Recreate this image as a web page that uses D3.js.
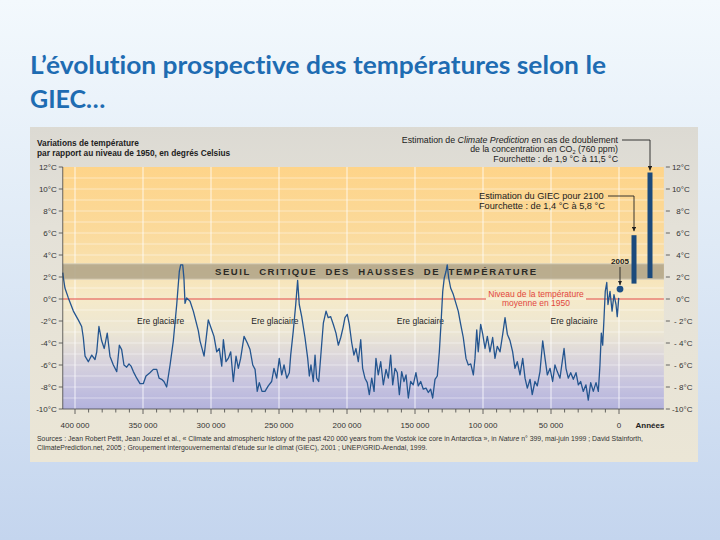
<!DOCTYPE html>
<html>
<head>
<meta charset="utf-8">
<script src="https://cdn.jsdelivr.net/npm/d3@7/dist/d3.min.js"></script>
<style>
  html, body { margin: 0; padding: 0; }
  body { width: 720px; height: 540px; overflow: hidden; }
  svg { display: block; }
  text { font-variant-ligatures: none; }
</style>
</head>
<body>
<svg id="chart" width="720" height="540"></svg>
<script>
// ---------------- DATA ----------------
// Vostok reconstruction: age in thousands of years before present, temperature anomaly vs 1950 (°C)
const vostokAge = [409, 408.5, 407.4, 404.9, 401.2, 397.6, 395.1, 393.9, 392.6, 390.2, 387.7, 385.3, 384.0, 382.4, 380.4, 378.5, 376.3, 374.3, 371.8, 369.3,
  367.4, 365.7, 364.0, 362.0, 360.3, 358.8, 357.1, 354.6, 352.2, 349.8, 347.8, 344.9, 342.4, 339.9, 338.2, 336.3, 334.6, 332.6, 330.1, 327.7,
  325.2, 323.3, 322.3, 320.8, 319.9, 319.1, 317.9, 315.4, 313.0, 309.3, 308.1, 305.1, 303.2, 302.0, 299.5, 297.8, 295.8, 293.9, 292.1, 290.9,
  289.0, 287.3, 285.5, 283.6, 281.6, 279.9, 278.2, 275.7, 273.3, 271.3, 269.3, 267.6, 266.0, 264.5, 262.5, 260.3, 257.9, 255.4, 253.7, 251.7,
  249.8, 248.0, 246.3, 244.3, 242.4, 241.4, 239.5, 237.7, 236.3, 235.1, 233.3, 230.9, 228.9, 227.7, 226.5, 224.8, 223.5, 222.3, 220.8, 219.3,
  217.4, 215.4, 213.8, 212.0, 210.1, 208.1, 206.4, 204.6, 202.9, 201.5, 199.8, 198.3, 196.5, 194.9, 193.4, 191.7, 189.9, 188.5, 186.8, 185.1,
  183.6, 181.8, 180.1, 178.7, 177.0, 175.2, 173.3, 171.3, 169.6, 167.9, 166.4, 164.7, 163.0, 161.5, 159.8, 158.1, 156.6, 154.9, 153.2, 151.3,
  149.3, 147.6, 145.8, 143.9, 141.9, 140.2, 138.5, 137.0, 135.3, 133.6, 132.1, 130.9, 129.6, 128.5, 127.2, 126.3, 125.2, 123.8, 121.8, 119.9,
  118.2, 116.4, 114.5, 112.5, 110.8, 109.0, 107.1, 105.9, 104.6, 103.5, 101.7, 100.2, 98.5, 96.8, 94.9, 92.9, 91.2, 89.5, 87.5, 85.5,
  83.8, 82.1, 80.1, 78.2, 76.5, 74.8, 72.8, 70.8, 69.1, 67.4, 65.4, 63.8, 61.8, 60.1, 58.1, 56.1, 54.4, 52.7, 50.7, 48.8,
  47.1, 45.4, 43.4, 41.4, 40.4, 39.0, 37.3, 35.5, 33.6, 31.6, 29.9, 28.2, 26.3, 24.3, 22.6, 20.8, 18.9, 16.9, 15.2, 14.0,
  13.0, 12.0, 11.0, 10.1, 9.0, 8.1, 6.6, 5.1, 3.7, 2.2, 1.3, 0.2];
const vostokTemp = [2.4, 1.9, 1.0, 0.1, -1.1, -1.9, -2.5, -3.5, -5.2, -5.7, -5.1, -5.5, -4.8, -2.5, -3.8, -4.5, -3.1, -5.2, -6.0, -6.6,
  -4.2, -4.6, -6.0, -6.2, -5.9, -6.1, -6.6, -7.2, -7.7, -7.7, -7.0, -6.7, -6.4, -6.4, -7.2, -7.3, -7.5, -8.0, -6.0, -3.8,
  -0.5, 2.5, 3.1, 3.1, 1.9, -0.4, 0.1, -0.2, -1.1, -2.9, -3.8, -5.2, -3.2, -1.9, -2.8, -3.4, -4.8, -4.5, -6.1, -3.7,
  -5.7, -5.4, -4.8, -7.5, -5.2, -6.3, -5.4, -3.4, -4.0, -4.6, -6.0, -6.4, -8.4, -7.6, -8.4, -8.4, -7.9, -7.5, -6.3, -7.2,
  -5.4, -6.9, -6.0, -7.2, -6.7, -5.1, -2.9, -0.5, 1.7, -0.5, -1.6, -3.5, -5.4, -7.0, -6.0, -7.5, -5.1, -7.2, -7.5, -5.2,
  -2.2, -1.1, -1.7, -1.6, -2.3, -3.1, -4.2, -3.5, -2.6, -1.7, -1.4, -2.3, -4.0, -5.1, -4.5, -5.7, -3.7, -6.3, -7.2, -7.6,
  -8.7, -7.2, -8.4, -5.4, -6.9, -5.7, -7.8, -6.4, -7.2, -5.1, -7.8, -6.3, -6.7, -8.7, -6.6, -7.5, -6.9, -9.0, -7.5, -7.8,
  -6.7, -7.9, -7.5, -8.2, -8.1, -8.5, -8.2, -9.0, -7.3, -7.0, -4.8, -2.3, 0.7, 1.9, 2.5, 3.1, 1.9, 1.0, 0.4, -0.4,
  -1.1, -2.3, -3.5, -5.4, -6.0, -5.9, -6.9, -5.4, -2.8, -4.8, -2.3, -3.2, -4.5, -3.4, -4.8, -3.5, -5.4, -4.3, -4.8, -3.2,
  -1.7, -3.2, -3.8, -4.8, -6.3, -5.7, -6.9, -5.4, -7.2, -8.1, -7.3, -8.7, -7.5, -7.9, -6.6, -3.8, -5.4, -6.9, -6.3, -7.5,
  -6.0, -6.6, -7.2, -5.4, -4.5, -6.3, -7.2, -6.7, -7.3, -6.7, -7.8, -7.5, -8.4, -7.8, -9.2, -7.6, -8.4, -7.6, -8.4, -6.0,
  -3.1, -4.2, -1.7, 0.7, 1.5, -0.5, 0.7, -1.1, 0.4, -0.5, -1.6, 0.1];

// Present-day point (2005)
const presentLabel = "2005";
const presentAge = 0;
const presentTemp = 0.9;

// Projection ranges (°C)
const projNames = ["GIEC 2100", "Climate Prediction"];
const projLow = [1.4, 1.9];
const projHigh = [5.8, 11.5];

// Critical threshold band (°C)
const thresholdLow = 1.8;
const thresholdHigh = 3.2;

// Axes
const yTicks = [12, 10, 8, 6, 4, 2, 0, -2, -4, -6, -8, -10];
const xMajorTicks = [400, 350, 300, 250, 200, 150, 100, 50, 0];
const xTickLabels = ["400 000", "350 000", "300 000", "250 000", "200 000", "150 000", "100 000", "50 000", "0"];
const glacialLabelAges = [337, 253, 146, 33];
const glacialLabel = "Ere glaciaire";

// ---------------- DRAWING ----------------
const svg = d3.select("#chart");
const defs = svg.append("defs");

function linGrad(id, x1, y1, x2, y2, stops) {
  const g = defs.append("linearGradient").attr("id", id)
    .attr("gradientUnits", "userSpaceOnUse")
    .attr("x1", x1).attr("y1", y1).attr("x2", x2).attr("y2", y2);
  stops.forEach(s => g.append("stop").attr("offset", s[0]).attr("stop-color", s[1]));
}

// slide background
linGrad("slideBg", 0, 0, 0, 540, [[0, "#f3f9fd"], [0.45, "#dfeaf6"], [1, "#c4d5ee"]]);
svg.append("rect").attr("width", 720).attr("height", 540).attr("fill", "url(#slideBg)");

// title
const title = svg.append("g").attr("font-family", "Lato, 'Open Sans', sans-serif")
  .attr("font-weight", 700).attr("font-size", 25).attr("fill", "#1e6cb2");
title.append("text").attr("x", 30).attr("y", 74).attr("textLength", 576).attr("lengthAdjust", "spacingAndGlyphs")
  .text("L’évolution prospective des températures selon le");
title.append("text").attr("x", 30).attr("y", 108).text("GIEC…");

// picture frame
linGrad("frameBg", 0, 127, 0, 462, [[0, "#dcdad3"], [0.3, "#e4e1d8"], [1, "#ebe6d6"]]);
svg.append("rect").attr("x", 30).attr("y", 127).attr("width", 668).attr("height", 335).attr("fill", "url(#frameBg)");

// scales
const x = d3.scaleLinear().domain([400, 0]).range([75, 619]);
const y = d3.scaleLinear().domain([-10, 12]).range([409, 167]);
const plotLeft = x(409), plotRight = x(-33);

// plot background gradient
linGrad("plotBg", 0, y(12), 0, y(-10), [
  [0, "#fed489"], [0.25, "#fbd999"], [0.42, "#f8e2b2"], [0.55, "#f5eaca"],
  [0.68, "#ece6d3"], [0.8, "#d9d4dc"], [0.9, "#c6c3df"], [1, "#b3b2dc"]]);
svg.append("rect").attr("x", plotLeft).attr("y", y(12)).attr("width", plotRight - plotLeft)
  .attr("height", y(-10) - y(12)).attr("fill", "url(#plotBg)");

// horizontal grid lines every 1°C
const gridY = d3.range(-9, 12, 1);
svg.append("g").selectAll("line").data(gridY).join("line")
  .attr("x1", plotLeft).attr("x2", plotRight)
  .attr("y1", d => y(d)).attr("y2", d => y(d))
  .attr("stroke", "#ffffff").attr("stroke-opacity", 0.45).attr("stroke-width", 1);

// vertical grid lines at major ticks
svg.append("g").selectAll("line").data(xMajorTicks).join("line")
  .attr("x1", d => x(d)).attr("x2", d => x(d))
  .attr("y1", y(12)).attr("y2", y(-10))
  .attr("stroke", "#ffffff").attr("stroke-opacity", 0.6).attr("stroke-width", 1.3);

// threshold band
svg.append("rect").attr("x", plotLeft).attr("width", plotRight - plotLeft)
  .attr("y", y(thresholdHigh)).attr("height", y(thresholdLow) - y(thresholdHigh))
  .attr("fill", "#b2a689").attr("opacity", 0.9);
svg.append("line").attr("x1", plotLeft).attr("x2", plotRight).attr("y1", y(thresholdHigh)).attr("y2", y(thresholdHigh))
  .attr("stroke", "#d8d0bb").attr("stroke-width", 1);
svg.append("line").attr("x1", plotLeft).attr("x2", plotRight).attr("y1", y(thresholdLow)).attr("y2", y(thresholdLow))
  .attr("stroke", "#d8d0bb").attr("stroke-width", 1);
svg.append("text").attr("x", 215).attr("y", y(2.5) + 3.5)
  .attr("font-family", "'Liberation Sans', Arial, sans-serif").attr("font-weight", 700).attr("font-size", 9.5)
  .attr("fill", "#2b2a26").attr("textLength", 321).attr("lengthAdjust", "spacing")
  .attr("xml:space", "preserve")
  .text("SEUIL  CRITIQUE  DES  HAUSSES  DE  TEMPÉRATURE");

// 1950 reference line (0°C) with gap for label
const refColor = "#e2463e";
svg.append("line").attr("x1", plotLeft).attr("x2", 486).attr("y1", y(0)).attr("y2", y(0))
  .attr("stroke", refColor).attr("stroke-width", 1.2);
svg.append("line").attr("x1", 586).attr("x2", plotRight).attr("y1", y(0)).attr("y2", y(0))
  .attr("stroke", refColor).attr("stroke-width", 1.2);
const refTxt = svg.append("text").attr("font-family", "'Liberation Sans', Arial, sans-serif")
  .attr("font-size", 8.5).attr("fill", refColor).attr("text-anchor", "middle");
refTxt.append("tspan").attr("x", 536).attr("y", 297).text("Niveau de la température");
refTxt.append("tspan").attr("x", 536).attr("y", 306).text("moyenne en 1950");

// glacial labels
svg.append("g").selectAll("text").data(glacialLabelAges).join("text")
  .attr("x", d => x(d)).attr("y", y(-2) + 3)
  .attr("text-anchor", "middle")
  .attr("font-family", "'Liberation Sans', Arial, sans-serif").attr("font-size", 8.5)
  .attr("fill", "#1e1e1e").text(glacialLabel);

// temperature curve
const series = vostokAge.map((a, i) => ({ age: a, temp: vostokTemp[i] }));
const line = d3.line().x(d => x(d.age)).y(d => y(d.temp));
svg.append("path").datum(series).attr("d", line)
  .attr("fill", "none").attr("stroke", "#24558f").attr("stroke-width", 1.3)
  .attr("stroke-linejoin", "round");

// 2005 dot
svg.append("circle").attr("cx", x(presentAge) + 1).attr("cy", y(presentTemp)).attr("r", 3.4).attr("fill", "#1d4f86");
svg.append("text").attr("x", x(presentAge) + 1).attr("y", 264).attr("text-anchor", "middle")
  .attr("font-family", "'Liberation Sans', Arial, sans-serif").attr("font-weight", 700).attr("font-size", 8)
  .attr("fill", "#222").text(presentLabel);

// arrow marker
defs.append("marker").attr("id", "arrow").attr("viewBox", "0 0 10 10").attr("refX", 10).attr("refY", 5)
  .attr("markerWidth", 5).attr("markerHeight", 5).attr("orient", "auto")
  .append("path").attr("d", "M0,0 L10,5 L0,10 z").attr("fill", "#222");

svg.append("path").attr("d", `M${x(presentAge) + 1},267 V${y(presentTemp) - 4}`)
  .attr("stroke", "#222").attr("stroke-width", 0.9).attr("marker-end", "url(#arrow)");

// projection bars
const xb = d3.scaleBand().domain(projNames).range([626, 658]);
const barW = 5;
svg.append("g").selectAll("rect").data(projNames).join("rect")
  .attr("x", d => xb(d) + xb.bandwidth() / 2 - barW / 2)
  .attr("width", barW)
  .attr("y", (d, i) => y(projHigh[i]))
  .attr("height", (d, i) => y(projLow[i]) - y(projHigh[i]))
  .attr("fill", "#1b4a7c");

const cxG = xb(projNames[0]) + xb.bandwidth() / 2;
const cxC = xb(projNames[1]) + xb.bandwidth() / 2;

// annotations
const annFont = "'Liberation Sans', Arial, sans-serif";
const annSize = 8.8;
const cp = svg.append("text").attr("font-family", annFont).attr("font-size", annSize).attr("fill", "#222").attr("text-anchor", "end");
const l1 = cp.append("tspan").attr("x", 618).attr("y", 142.5);
l1.append("tspan").text("Estimation de ");
l1.append("tspan").attr("font-style", "italic").text("Climate Prediction");
l1.append("tspan").text(" en cas de doublement");
const l2 = svg.append("text").attr("font-family", annFont).attr("font-size", annSize).attr("fill", "#222").attr("text-anchor", "end")
  .attr("x", 618).attr("y", 152.3);
l2.append("tspan").text("de la concentration en CO");
l2.append("tspan").attr("font-size", 5.5).attr("dy", 1.2).text("2");
l2.append("tspan").attr("dy", -1.2).text(" (760 ppm)");
svg.append("text").attr("font-family", annFont).attr("font-size", annSize).attr("fill", "#222").attr("text-anchor", "end")
  .attr("x", 618).attr("y", 162).text("Fourchette : de 1,9 °C à 11,5 °C");

svg.append("path").attr("d", `M622,140 H${cxC} V${y(projHigh[1]) - 2}`)
  .attr("fill", "none").attr("stroke", "#222").attr("stroke-width", 0.9).attr("marker-end", "url(#arrow)");

const gi = svg.append("text").attr("font-family", annFont).attr("font-size", 9.2).attr("fill", "#222");
gi.append("tspan").attr("x", 479).attr("y", 199).text("Estimation du GIEC pour 2100");
gi.append("tspan").attr("x", 479).attr("y", 208.5).text("Fourchette : de 1,4 °C à 5,8 °C");
svg.append("path").attr("d", `M608,196 H${cxG} V${y(projHigh[0]) - 4}`)
  .attr("fill", "none").attr("stroke", "#222").attr("stroke-width", 0.9).attr("marker-end", "url(#arrow)");

// heading inside picture
const hd = svg.append("text").attr("font-family", annFont).attr("font-weight", 700).attr("font-size", 8.3).attr("fill", "#222");
hd.append("tspan").attr("x", 37).attr("y", 146).text("Variations de température");
hd.append("tspan").attr("x", 37).attr("y", 156).text("par rapport au niveau de 1950, en degrés Celsius");

// left y axis
const axisColor = "#444";
svg.append("line").attr("x1", plotLeft).attr("x2", plotLeft).attr("y1", y(12)).attr("y2", y(-10))
  .attr("stroke", axisColor).attr("stroke-width", 0.8);
const yl = svg.append("g");
yl.selectAll("line").data(yTicks).join("line")
  .attr("x1", plotLeft - 4).attr("x2", plotLeft).attr("y1", d => y(d)).attr("y2", d => y(d))
  .attr("stroke", axisColor).attr("stroke-width", 0.8);
yl.selectAll("text").data(yTicks).join("text")
  .attr("x", plotLeft - 6).attr("y", d => y(d) + 3).attr("text-anchor", "end")
  .attr("font-family", annFont).attr("font-size", 8).attr("fill", "#333")
  .text(d => (d < 0 ? "-" + Math.abs(d) : d) + "°C");

// right y axis (ticks + labels)
const yr = svg.append("g");
yr.selectAll("line").data(yTicks).join("line")
  .attr("x1", plotRight + 2).attr("x2", plotRight + 6).attr("y1", d => y(d)).attr("y2", d => y(d))
  .attr("stroke", axisColor).attr("stroke-width", 0.8);
yr.selectAll("text").data(yTicks).join("text")
  .attr("x", plotRight + 8).attr("y", d => y(d) + 3)
  .attr("font-family", annFont).attr("font-size", 8).attr("fill", "#333")
  .attr("xml:space", "preserve")
  .text(d => (d < 0 ? (d > -10 ? " - " : "-") + Math.abs(d) : (d < 10 ? "  " + d : d)) + "°C");

// x axis
svg.append("line").attr("x1", plotLeft).attr("x2", plotRight).attr("y1", y(-10)).attr("y2", y(-10))
  .attr("stroke", axisColor).attr("stroke-width", 0.8);
const minor = d3.range(400, -1, -10);
svg.append("g").selectAll("line").data(minor).join("line")
  .attr("x1", d => x(d)).attr("x2", d => x(d))
  .attr("y1", y(-10)).attr("y2", d => y(-10) + (d % 50 === 0 ? 5 : 3.5))
  .attr("stroke", axisColor).attr("stroke-width", 0.8);
svg.append("g").selectAll("text").data(xMajorTicks).join("text")
  .attr("x", d => x(d)).attr("y", 428).attr("text-anchor", "middle")
  .attr("font-family", annFont).attr("font-size", 8).attr("fill", "#333")
  .text((d, i) => xTickLabels[i]);
svg.append("text").attr("x", 650).attr("y", 428).attr("text-anchor", "middle")
  .attr("font-family", annFont).attr("font-weight", 700).attr("font-size", 8).attr("fill", "#222").text("Années");

// sources
const src = svg.append("text").attr("font-family", annFont).attr("font-size", 6.9).attr("fill", "#333");
const s1 = src.append("tspan").attr("x", 37).attr("y", 441);
s1.append("tspan").text("Sources : Jean Robert Petit, Jean Jouzel et al., « Climate and atmospheric history of the past 420 000 years from the Vostok ice core in Antarctica », in ");
s1.append("tspan").attr("font-style", "italic").text("Nature");
s1.append("tspan").text(" n° 399, mai-juin 1999 ; David Stainforth,");
src.append("tspan").attr("x", 37).attr("y", 450)
  .text("ClimatePrediction.net, 2005 ; Groupement intergouvernemental d’étude sur le climat (GIEC), 2001 ; UNEP/GRID-Arendal, 1999.");
</script>
</body>
</html>
